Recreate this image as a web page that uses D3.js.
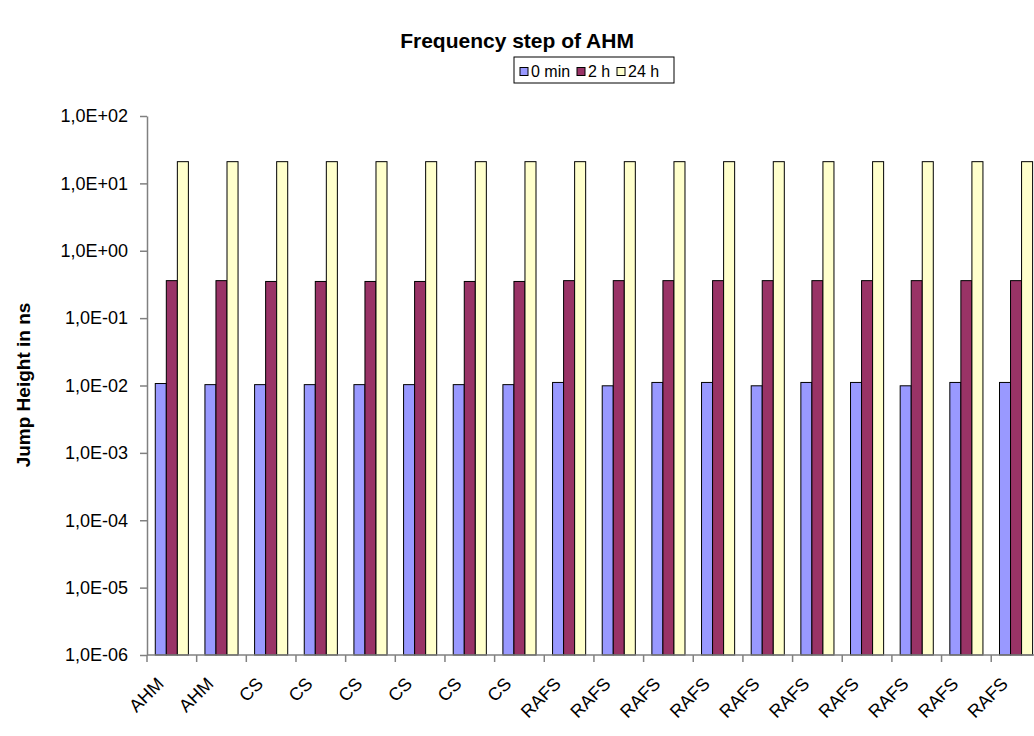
<!DOCTYPE html>
<html>
<head>
<meta charset="utf-8">
<script src="https://cdn.jsdelivr.net/npm/d3@7"></script>
<style>
  html, body { margin: 0; padding: 0; background: #fff; }
  svg { display: block; font-family: Arial, "Liberation Sans", sans-serif; }
</style>
</head>
<body>
<svg id="chart" width="1034" height="736"></svg>
<script>
const categories = ["AHM","AHM","CS","CS","CS","CS","CS","CS","RAFS","RAFS","RAFS","RAFS","RAFS","RAFS","RAFS","RAFS","RAFS","RAFS"];
const seriesNames = ["0 min", "2 h", "24 h"];
const series0min = [0.0107,0.0103,0.0103,0.0103,0.0103,0.0103,0.0103,0.0103,0.0111,0.0099,0.0111,0.0111,0.0099,0.0111,0.0111,0.0099,0.0111,0.0111];
const series2h   = [0.36,0.36,0.35,0.35,0.35,0.35,0.35,0.35,0.36,0.36,0.36,0.36,0.36,0.36,0.36,0.36,0.36,0.36];
const series24h  = [21,21,21,21,21,21,21,21,21,21,21,21,21,21,21,21,21,21];
const yTickValues = [1e-6,1e-5,1e-4,1e-3,1e-2,1e-1,1e0,1e1,1e2];
const colors = ["#9999FF", "#993366", "#FFFFCC"];

const seriesValues = [series0min, series2h, series24h];

const svg = d3.select("#chart");
const plotLeft = 147, plotTop = 116, plotBottom = 655;
const catStep = 49.66;
const plotRight = plotLeft + categories.length * catStep;

const x = d3.scaleBand().domain(d3.range(categories.length)).range([plotLeft, plotRight]).padding(0);
const xs = d3.scaleBand().domain(d3.range(seriesNames.length)).range([0, x.bandwidth()]).paddingInner(0).paddingOuter(0.75);
const y = d3.scaleLog().domain([1e-6, 1e2]).range([plotBottom, plotTop]);

function fmt(v) {
  const e = Math.round(Math.log10(v));
  const a = Math.abs(e);
  return "1,0E" + (e < 0 ? "-" : "+") + (a < 10 ? "0" : "") + a;
}

// Title
svg.append("text").attr("x", 517).attr("y", 48).attr("text-anchor", "middle")
  .attr("font-size", 21).attr("font-weight", "bold").text("Frequency step of AHM");

// Bars
seriesValues.forEach((vals, si) => {
  svg.append("g").selectAll("rect").data(vals).join("rect")
    .attr("x", (d, i) => x(i) + xs(si))
    .attr("y", d => y(d))
    .attr("width", xs.bandwidth())
    .attr("height", d => plotBottom - y(d))
    .attr("fill", colors[si])
    .attr("stroke", "#000").attr("stroke-width", 1);
});

// Y axis
const yAxis = d3.axisLeft(y).tickValues(yTickValues).tickFormat(fmt).tickSize(7).tickPadding(12).tickSizeOuter(0);
const gy = svg.append("g").attr("transform", `translate(${plotLeft},0)`).call(yAxis);
gy.select(".domain").attr("stroke", "#808080").attr("stroke-width", 1.5);
gy.selectAll(".tick line").attr("stroke", "#808080").attr("stroke-width", 1.5);
gy.selectAll(".tick text").attr("font-size", 18).attr("fill", "#000").attr("font-family", "Arial, 'Liberation Sans', sans-serif");

// X axis
const gx = svg.append("g");
gx.append("line").attr("x1", plotLeft).attr("x2", plotRight).attr("y1", plotBottom).attr("y2", plotBottom)
  .attr("stroke", "#808080").attr("stroke-width", 1.5);
gx.selectAll("line.tk").data(d3.range(categories.length + 1)).join("line").attr("class", "tk")
  .attr("x1", i => plotLeft + i * x.step()).attr("x2", i => plotLeft + i * x.step())
  .attr("y1", plotBottom).attr("y2", plotBottom + 7)
  .attr("stroke", "#808080").attr("stroke-width", 1.5);
gx.selectAll("text").data(categories).join("text")
  .attr("transform", (d, i) => `translate(${x(i) + x.bandwidth() / 2 - 7},${plotBottom + 30}) rotate(-45)`)
  .attr("text-anchor", "end")
  .attr("font-size", 18).text(d => d);

// Y label
svg.append("text").attr("transform", "translate(30,385) rotate(-90)")
  .attr("text-anchor", "middle").attr("font-size", 19).attr("font-weight", "bold")
  .text("Jump Height in ns");

// Legend
const lg = svg.append("g").attr("transform", "translate(514,57)");
lg.append("rect").attr("width", 160).attr("height", 26).attr("fill", "#fff").attr("stroke", "#000").attr("stroke-width", 1);
const legendX = [6, 63, 103];
seriesNames.forEach((n, i) => {
  lg.append("rect").attr("x", legendX[i]).attr("y", 10.5).attr("width", 8).attr("height", 8)
    .attr("fill", colors[i]).attr("stroke", "#000").attr("stroke-width", 1);
  lg.append("text").attr("x", legendX[i] + 11).attr("y", 20).attr("font-size", 16).text(n);
});
</script>
</body>
</html>
